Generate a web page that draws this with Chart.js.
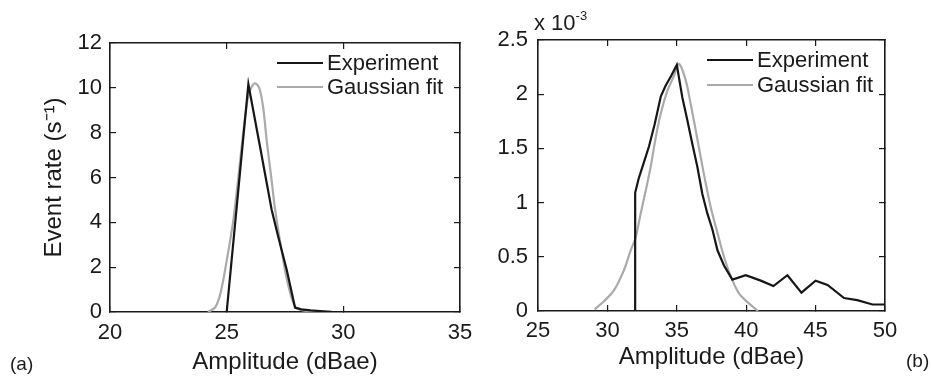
<!DOCTYPE html>
<html>
<head>
<meta charset="utf-8">
<script src="https://cdn.jsdelivr.net/npm/chart.js@4/dist/chart.umd.min.js"></script>
<style>
  html, body { margin: 0; padding: 0; background: #fff; }
  #wrap { position: relative; width: 931px; height: 379px; overflow: hidden;
          font-family: "Liberation Sans", Arial, Helvetica, sans-serif; color: #1c1c1c; }
  #boxA { position: absolute; left: 0; top: 0; width: 480px; height: 379px; }
  #boxB { position: absolute; left: 480px; top: 0; width: 451px; height: 379px; }
  .lab { position: absolute; white-space: nowrap; line-height: 1; }
  #labA { left: 10px; top: 354px; font-size: 19px; }
  #labB { left: 906px; top: 351px; font-size: 19px; }
  #expo { left: 534px; top: 12px; font-size: 22px; }
  #expo sup { font-size: 13px; vertical-align: 0; position: relative; top: -10px; }
</style>
</head>
<body>
<div id="wrap">
  <div id="boxA"><canvas id="chartA" width="480" height="379"></canvas></div>
  <div id="boxB"><canvas id="chartB" width="451" height="379"></canvas></div>
  <div class="lab" id="labA">(a)</div>
  <div class="lab" id="labB">(b)</div>
  <div class="lab" id="expo">x 10<sup>-3</sup></div>
</div>
<script>
// ---------- Panel (a) data ----------
const expA_x = [25.0, 25.45, 25.93, 26.43, 26.93, 27.21, 27.57, 27.93, 28.2, 28.6, 29.0, 29.5, 35.0];
const expA_y = [0, 4.9, 10.16, 7.37, 4.55, 3.36, 1.9, 0.2, 0.12, 0.07, 0.04, 0.01, 0];
const fitA_x = [24.2, 24.5, 24.7, 24.85, 24.97, 25.12, 25.3, 25.5, 25.7, 25.9, 26.05, 26.22, 26.4, 26.57, 26.72, 26.9, 27.07, 27.29, 27.54, 27.79, 28.0, 28.5, 29.3];
const fitA_y = [0, 0.2, 0.7, 1.4, 2.1, 3.0, 4.2, 6.0, 7.9, 9.5, 10.0, 10.2, 9.98, 9.08, 7.6, 6.1, 4.62, 3.14, 1.65, 0.61, 0.16, 0.04, 0];
const xTicksA = [20, 25, 30, 35];
const yTicksA = [0, 2, 4, 6, 8, 10, 12];

// ---------- Panel (b) data ----------
const expB_x = [32.0, 32.0, 32.25, 32.6, 33.0, 33.4, 33.85, 34.2, 34.6, 35.0, 35.4, 35.76, 36.12, 36.48, 36.84, 37.2, 37.57, 37.93, 38.4, 39.0, 39.97, 41.05, 41.96, 42.97, 43.98, 45.0, 45.86, 47.05, 48.0, 49.1, 50.0];
const expB_y = [0, 1.09e-3, 1.22e-3, 1.36e-3, 1.52e-3, 1.72e-3, 1.98e-3, 2.08e-3, 2.17e-3, 2.27e-3, 1.97e-3, 1.76e-3, 1.54e-3, 1.33e-3, 1.08e-3, 0.90e-3, 0.75e-3, 0.56e-3, 0.42e-3, 0.29e-3, 0.33e-3, 0.28e-3, 0.23e-3, 0.33e-3, 0.17e-3, 0.28e-3, 0.24e-3, 0.12e-3, 0.10e-3, 0.06e-3, 0.06e-3];
const fitB_x = [29.08, 29.75, 30.47, 31.2, 31.68, 32.04, 32.4, 32.76, 33.12, 33.48, 33.84, 34.32, 34.8, 35.16, 35.64, 36.0, 36.36, 36.72, 37.08, 37.44, 37.93, 38.4, 38.89, 39.49, 40.2, 40.85];
const fitB_y = [0.015e-3, 0.09e-3, 0.19e-3, 0.38e-3, 0.56e-3, 0.68e-3, 0.90e-3, 1.11e-3, 1.33e-3, 1.60e-3, 1.82e-3, 2.03e-3, 2.17e-3, 2.28e-3, 2.13e-3, 1.91e-3, 1.67e-3, 1.42e-3, 1.18e-3, 0.96e-3, 0.72e-3, 0.50e-3, 0.32e-3, 0.16e-3, 0.07e-3, 0.0];
const xTicksB = [25, 30, 35, 40, 45, 50];
const yTicksB = [0, 0.5e-3, 1.0e-3, 1.5e-3, 2.0e-3, 2.5e-3];

const seriesNames = ['Experiment', 'Gaussian fit'];

// ---------- styling ----------
const FONT = "'Liberation Sans', Arial, Helvetica, sans-serif";
const INK = '#1a1a1a';
const EXP_COLOR = '#161616';
const FIT_COLOR = '#aaaaaa';

const pts = (xs, ys) => xs.map((x, i) => ({ x, y: ys[i] }));

const legendPlugin = {
  id: 'mLegend',
  afterDatasetsDraw(chart, args, opts) {
    const ctx = chart.ctx;
    ctx.save();
    chart.data.datasets.forEach((ds, i) => {
      const y = opts.y + i * opts.dy;
      ctx.strokeStyle = ds.borderColor;
      ctx.lineWidth = ds.borderWidth;
      ctx.beginPath();
      ctx.moveTo(opts.x, y);
      ctx.lineTo(opts.x + opts.len, y);
      ctx.stroke();
      ctx.fillStyle = INK;
      ctx.font = '22px ' + FONT;
      ctx.textBaseline = 'middle';
      ctx.textAlign = 'left';
      ctx.fillText(ds.label, opts.x + opts.len + opts.gap, y + 1);
    });
    ctx.restore();
  }
};

function makeScales(c) {
  const fix = arr => s => { s.ticks = arr.map(v => ({ value: v })); };
  const border = { display: true, color: INK, width: 1.6 };
  const grid = { drawOnChartArea: false, drawTicks: true, tickLength: -6, color: INK, lineWidth: 1.2 };
  const tickFont = { family: FONT, size: 22 };
  return {
    x: {
      type: 'linear', position: 'bottom', min: c.xMin, max: c.xMax,
      afterBuildTicks: fix(c.xTicks),
      afterFit: s => { s.height = c.xAxisH; s.paddingLeft = 0; s.paddingRight = 0; },
      border, grid,
      ticks: { color: INK, font: tickFont, padding: c.xTickPad, maxRotation: 0, minRotation: 0, autoSkip: false },
      title: { display: true, text: 'Amplitude (dBae)', color: INK, font: { family: FONT, size: 24 }, padding: { top: 0, bottom: c.xTitlePad } }
    },
    x2: {
      type: 'linear', position: 'top', min: c.xMin, max: c.xMax,
      afterBuildTicks: fix(c.xTicks),
      afterFit: s => { s.height = 0; s.paddingLeft = 0; s.paddingRight = 0; },
      border, grid, ticks: { display: false }
    },
    y: {
      type: 'linear', position: 'left', min: c.yMin, max: c.yMax,
      afterBuildTicks: fix(c.yTicks),
      afterFit: s => { s.width = c.yAxisW; s.paddingTop = 0; s.paddingBottom = 0; },
      border, grid,
      ticks: { color: INK, font: tickFont, padding: c.yTickPad, callback: c.yFmt },
      title: c.yTitle ? { display: true, text: c.yTitle, color: INK, font: { family: FONT, size: 24 }, padding: { top: c.yTitlePad, bottom: 0 } } : { display: false }
    },
    y2: {
      type: 'linear', position: 'right', min: c.yMin, max: c.yMax,
      afterBuildTicks: fix(c.yTicks),
      afterFit: s => { s.width = 0; s.paddingTop = 0; s.paddingBottom = 0; },
      border, grid, ticks: { display: false }
    }
  };
}

function makeChart(id, expX, expY, fitX, fitY, c) {
  return new Chart(document.getElementById(id), {
    type: 'scatter',
    data: {
      datasets: [
        { label: seriesNames[0], data: pts(expX, expY), showLine: true, borderColor: EXP_COLOR, borderWidth: 2.2, pointRadius: 0, tension: 0, fill: false },
        { label: seriesNames[1], data: pts(fitX, fitY), showLine: true, borderColor: FIT_COLOR, borderWidth: 2.2, pointRadius: 0, tension: 0.3, fill: false }
      ]
    },
    options: {
      responsive: false,
      animation: false,
      layout: { padding: c.pad },
      scales: makeScales(c),
      plugins: {
        legend: { display: false },
        tooltip: { enabled: false },
        mLegend: c.legend
      }
    },
    plugins: [legendPlugin]
  });
}

makeChart('chartA', expA_x, expA_y, fitA_x, fitA_y, {
  xMin: 20, xMax: 35, yMin: 0, yMax: 12,
  xTicks: xTicksA, yTicks: yTicksA,
  pad: { left: 0, top: 43, right: 20, bottom: 0 },
  xAxisH: 67, yAxisW: 110,
  xTickPad: 14, yTickPad: 14, xTitlePad: 2,
  yTitle: 'Event rate (s\u207B\u00B9)', yTitlePad: 40,
  yFmt: v => String(v),
  legend: { x: 277, y: 63, dy: 24, len: 46, gap: 4 }
});

makeChart('chartB', expB_x, expB_y, fitB_x, fitB_y, {
  xMin: 25, xMax: 50, yMin: 0, yMax: 2.5e-3,
  xTicks: xTicksB, yTicks: yTicksB,
  pad: { left: 0, top: 40, right: 46, bottom: 0 },
  xAxisH: 68, yAxisW: 58,
  xTickPad: 13, yTickPad: 16, xTitlePad: 7,
  yTitle: null, yTitlePad: 0,
  yFmt: v => String(+(v * 1000).toFixed(1)),
  legend: { x: 227, y: 60, dy: 25, len: 46, gap: 4 }
});
</script>
</body>
</html>
